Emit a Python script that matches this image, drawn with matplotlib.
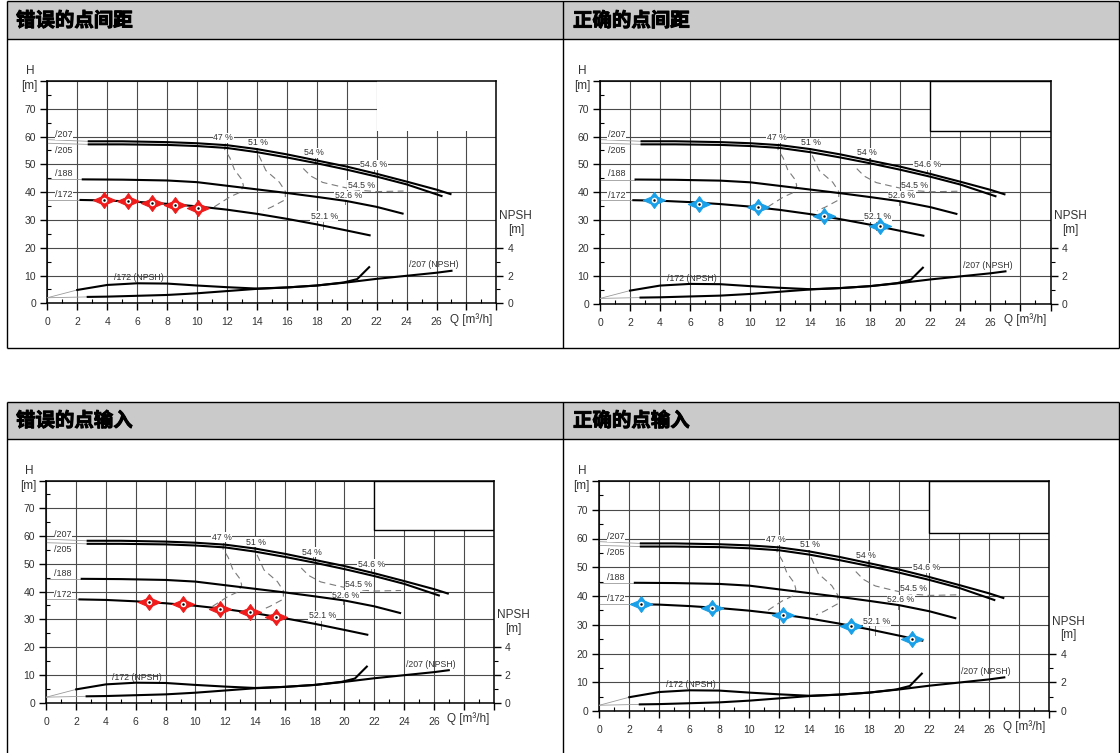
import matplotlib
matplotlib.use("Agg")
import matplotlib.pyplot as plt
import matplotlib.patheffects as pe
from matplotlib.path import Path
from matplotlib.patches import Rectangle
from matplotlib.lines import Line2D
from matplotlib.ticker import MultipleLocator, FixedLocator

plt.rcParams['font.family'] = ['Liberation Sans', 'DejaVu Sans']

# ---------------- data ----------------
titles = ["错误的点间距", "正确的点间距", "错误的点输入", "正确的点输入"]

# pump head curves (Q in m3/h, H in m)
q207 = [2.7, 5, 8, 10, 12, 14, 16, 18, 20, 22, 24, 26, 27.0]
h207 = [58.3, 58.3, 58.0, 57.6, 56.9, 55.5, 53.6, 51.4, 49.2, 46.6, 43.8, 40.9, 39.2]
q205 = [2.7, 5, 8, 10, 12, 14, 16, 18, 20, 22, 24, 26.4]
h205 = [57.2, 57.2, 57.0, 56.6, 55.9, 54.4, 52.5, 50.4, 48.1, 45.6, 42.8, 38.5]
q188 = [2.3, 5, 8, 10, 12, 14, 16, 18, 20, 22, 23.8]
h188 = [44.6, 44.5, 44.2, 43.6, 42.3, 41.0, 39.7, 38.3, 36.8, 34.7, 32.2]
q172 = [2.15, 4, 6, 8, 10, 12, 14, 16, 18, 20, 21.6]
h172 = [37.2, 37.0, 36.5, 35.8, 34.9, 33.7, 32.2, 30.4, 28.4, 26.2, 24.4]

# NPSH curves (m)
q_npsh172 = [2.0, 4, 6, 8, 10, 12, 14, 16, 18, 19.8, 20.7, 21.2, 21.5]
npsh172 = [0.96, 1.32, 1.44, 1.42, 1.28, 1.16, 1.06, 1.14, 1.28, 1.50, 1.74, 2.28, 2.60]
q_npsh207 = [2.7, 4, 6, 8, 10, 12, 14, 16, 18, 20, 22, 24, 26, 27.0]
npsh207 = [0.46, 0.48, 0.54, 0.60, 0.72, 0.88, 1.04, 1.14, 1.28, 1.50, 1.76, 1.98, 2.20, 2.34]

# iso-efficiency lines
q_eff47 = [11.9, 11.85, 12.2, 12.5, 13.0, 13.1, 12.9, 12.2, 11.5, 11.15]
h_eff47 = [57.5, 55.4, 52.3, 48.1, 44.5, 42.4, 40.0, 38.3, 35.9, 34.7]
q_eff51 = [13.9, 14.0, 14.6, 15.5, 15.9, 15.9, 15.0, 14.45]
h_eff51 = [57.0, 54.8, 47.8, 43.6, 40.3, 37.3, 34.7, 33.4]
q_eff54 = [17.1, 17.6, 18.4, 19.5, 20.6, 22.0, 23.8]
h_eff54 = [48.5, 45.8, 43.5, 42.1, 40.8, 40.2, 40.4]

eff_labels = ["47 %", "51 %", "54 %", "54.6 %", "54.5 %", "52.6 %", "52.1 %"]
eff_label_q = [11.75, 14.05, 17.8, 21.8, 20.96, 20.1, 18.5]
eff_label_h = [59.6, 57.8, 54.1, 49.8, 42.5, 38.7, 31.3]
leader_q = [17.9, 21.8, 19.9, 18.4]
leader_h0 = [53.4, 48.8, 37.5, 29.4]
leader_h1 = [51.2, 47.0, 35.6, 26.6]

curve_labels = ["/207", "/205", "/188", "/172"]
curve_label_h = [60.6, 55.0, 46.6, 39.0]

# operating points per panel
pts_q = [
    [3.79, 5.37, 6.97, 8.55, 10.1],
    [3.59, 6.61, 10.49, 14.89, 18.62],
    [6.9, 9.15, 11.67, 13.66, 15.4],
    [2.81, 7.5, 12.26, 16.8, 20.83],
]
pts_h = [
    [37.2, 36.7, 36.1, 35.5, 34.3],
    [37.1, 35.9, 34.7, 31.6, 27.8],
    [36.4, 35.6, 33.9, 32.5, 30.7],
    [37.2, 36.0, 33.5, 29.65, 25.2],
]
pt_colors = ["#f01c1c", "#1aa0e8", "#f01c1c", "#1aa0e8"]

x_ticks = list(range(0, 31, 2))
x_labels = [str(v) for v in range(0, 27, 2)] + ["", ""]
y_ticks = list(range(0, 81, 10))
y_labels = [str(v) for v in range(0, 71, 10)] + [""]

# ---------------- figure ----------------
W, Hpx = 1120, 753
fig = plt.figure(figsize=(W / 100, Hpx / 100), dpi=100)


def fxy(px, py):
    return px / W, 1 - py / Hpx


def fline(x0, y0, x1, y1, lw=1.0, color="black"):
    a = fxy(x0, y0)
    b = fxy(x1, y1)
    fig.add_artist(Line2D([a[0], b[0]], [a[1], b[1]], transform=fig.transFigure,
                          color=color, lw=lw, solid_capstyle="butt"))


def frect(x0, y0, x1, y1, **kw):
    a = fxy(x0, y1)
    fig.add_artist(Rectangle(a, (x1 - x0) / W, (y1 - y0) / Hpx,
                             transform=fig.transFigure, **kw))


# table frames and grey header rows
for top, hdr, bot in [(1, 39, 348), (402, 439, 760)]:
    frect(7, top, 1119, hdr, facecolor="#cacaca", edgecolor="none")
    fline(7, top, 1119, top)
    fline(7, hdr, 1119, hdr)
    fline(7, top, 7, bot)
    fline(1119, top, 1119, bot)
    fline(563, top, 563, bot)
    fline(7, bot, 1119, bot)

header_pos = [(16, 21), (573, 21), (16, 421), (573, 421)]
for (hx, hy), t in zip(header_pos, titles):
    a = fxy(hx, hy)
    fig.text(a[0], a[1], t, fontsize=14, fontweight="bold",
             family=["Noto Sans CJK SC", "DejaVu Sans"], va="center", ha="left",
             path_effects=[pe.withStroke(linewidth=0.7, foreground="black")])

# star marker
star = Path([(1.4, 0), (0.42, 0.42), (0, 1), (-0.42, 0.42), (-1.4, 0),
             (-0.42, -0.42), (0, -1), (0.42, -0.42), (1.4, 0)],
            [Path.MOVETO] + [Path.LINETO] * 7 + [Path.CLOSEPOLY])

panel_rects = [
    (47.3, 81.0, 496.4, 303.3),
    (600.0, 80.7, 1050.5, 304.0),
    (46.4, 480.5, 493.5, 702.7),
    (599.3, 481.0, 1049.3, 711.0),
]

TXT = "#333333"
GRID = "#4a4a4a"

for i, (l, t, r, b) in enumerate(panel_rects):
    ax = fig.add_axes([l / W, 1 - b / Hpx, (r - l) / W, (b - t) / Hpx])
    ax.set_xlim(0, 30)
    ax.set_ylim(0, 80)
    ax.set_axisbelow(True)
    ax.set_xticks(x_ticks)
    ax.set_xticklabels(x_labels)
    ax.set_yticks(y_ticks)
    ax.set_yticklabels(y_labels)
    ax.xaxis.set_minor_locator(MultipleLocator(1))
    ax.yaxis.set_minor_locator(MultipleLocator(5))
    ax.grid(True, which="major", color=GRID, lw=0.8)
    ax.tick_params(axis="both", which="major", direction="out", length=5,
                   width=1.0, labelsize=7.5, labelcolor=TXT, pad=3)
    ax.tick_params(axis="x", which="major", pad=5)
    ax.tick_params(axis="both", which="minor", direction="in", length=3, width=0.8)
    ax.tick_params(axis="y", which="both", right=False)
    for s in ax.spines.values():
        s.set_linewidth(1.1)

    # blank title block in the top-right corner
    ax.add_patch(Rectangle((22, 62), 8, 18, facecolor="white",
                           edgecolor="black" if i > 0 else "none", lw=1.0, zorder=1.5))

    # efficiency lines
    for qq, hh in [(q_eff47, h_eff47), (q_eff51, h_eff51), (q_eff54, h_eff54)]:
        ax.plot(qq, hh, color="#7a7a7a", lw=0.8, ls=(0, (6, 4)), zorder=2)
    for q0, a0, a1 in zip(leader_q, leader_h0, leader_h1):
        ax.plot([q0, q0], [a0, a1], color="#7a7a7a", lw=0.7, zorder=2)

    # thin leaders from the axis to the curve starts
    ax.plot([0, q207[0]], [58.9, h207[0]], color="#9a9a9a", lw=0.6, zorder=2)
    ax.plot([0, q205[0]], [57.6, h205[0]], color="#9a9a9a", lw=0.6, zorder=2)
    ax.plot([0, q188[0]], [h188[0], h188[0]], color="#9a9a9a", lw=0.6, zorder=2)
    ax.plot([0, q172[0]], [h172[0], h172[0]], color="#9a9a9a", lw=0.6, zorder=2)

    for qq, hh in [(q207, h207), (q205, h205), (q188, h188), (q172, h172)]:
        ax.plot(qq, hh, color="black", lw=1.5, zorder=3, solid_capstyle="butt")

    for txt, q0, h0 in zip(eff_labels, eff_label_q, eff_label_h):
        ax.text(q0, h0, txt, fontsize=6.3, color=TXT, ha="center", va="center", zorder=2.5,
                bbox=dict(facecolor="white", edgecolor="none", pad=0.3))
    for txt, h0 in zip(curve_labels, curve_label_h):
        ax.text(1.1, h0, txt, fontsize=6.5, color=TXT, ha="center", va="center", zorder=2.5,
                bbox=dict(facecolor="white", edgecolor="none", pad=0.3))

    # operating points
    ax.plot(pts_q[i], pts_h[i], ls="none", marker=star, ms=16, color=pt_colors[i],
            mec=pt_colors[i], mew=0.8, zorder=5)
    ax.plot(pts_q[i], pts_h[i], ls="none", marker="o", ms=4, mfc="white", mec="none", zorder=6)
    ax.plot(pts_q[i], pts_h[i], ls="none", marker="o", ms=1.8, mfc="black", mec="none", zorder=7)

    # axis titles
    ax.annotate("H", xy=(0, 1), xycoords="axes fraction", xytext=(-12.5, 7.2),
                textcoords="offset points", fontsize=8.5, color=TXT, ha="center", va="center")
    ax.annotate("[m]", xy=(0, 1), xycoords="axes fraction", xytext=(-12.8, -3.6),
                textcoords="offset points", fontsize=8.5, color=TXT, ha="center", va="center")
    ax.annotate("Q [m³/h]", xy=(28.3, 0), xycoords=ax.get_xaxis_transform(), xytext=(0, -11.5),
                textcoords="offset points", fontsize=8.5, color=TXT, ha="center", va="center")

    # NPSH on the secondary axis
    ax2 = ax.twinx()
    ax2.set_ylim(0, 16)
    ax2.yaxis.set_major_locator(FixedLocator([0, 2, 4]))
    ax2.yaxis.set_minor_locator(FixedLocator([1, 3]))
    ax2.tick_params(axis="y", which="major", direction="out", length=5, width=1.0,
                    labelsize=7.5, labelcolor=TXT, pad=3)
    ax2.tick_params(axis="y", which="minor", direction="out", length=3, width=0.8)
    for s in ax2.spines.values():
        s.set_visible(False)
    ax2.plot([0, q_npsh172[0]], [0.4, npsh172[0]], color="#9a9a9a", lw=0.6)
    ax2.plot([0, q_npsh207[0]], [0.4, npsh207[0]], color="#9a9a9a", lw=0.6)
    ax2.plot(q_npsh172, npsh172, color="black", lw=1.5)
    ax2.plot(q_npsh207, npsh207, color="black", lw=1.5)
    ax2.text(6.1, 1.84, "/172 (NPSH)", fontsize=6.3, color=TXT, ha="center", va="center")
    ax2.text(25.8, 2.76, "/207 (NPSH)", fontsize=6.3, color=TXT, ha="center", va="center")
    ax2.annotate("NPSH", xy=(1, 20 / 80), xycoords="axes fraction", xytext=(14, 23),
                 textcoords="offset points", fontsize=8.5, color=TXT, ha="center", va="center")
    ax2.annotate("[m]", xy=(1, 20 / 80), xycoords="axes fraction", xytext=(14, 13),
                 textcoords="offset points", fontsize=8.5, color=TXT, ha="center", va="center")

fig.savefig("out.png", dpi=100)
